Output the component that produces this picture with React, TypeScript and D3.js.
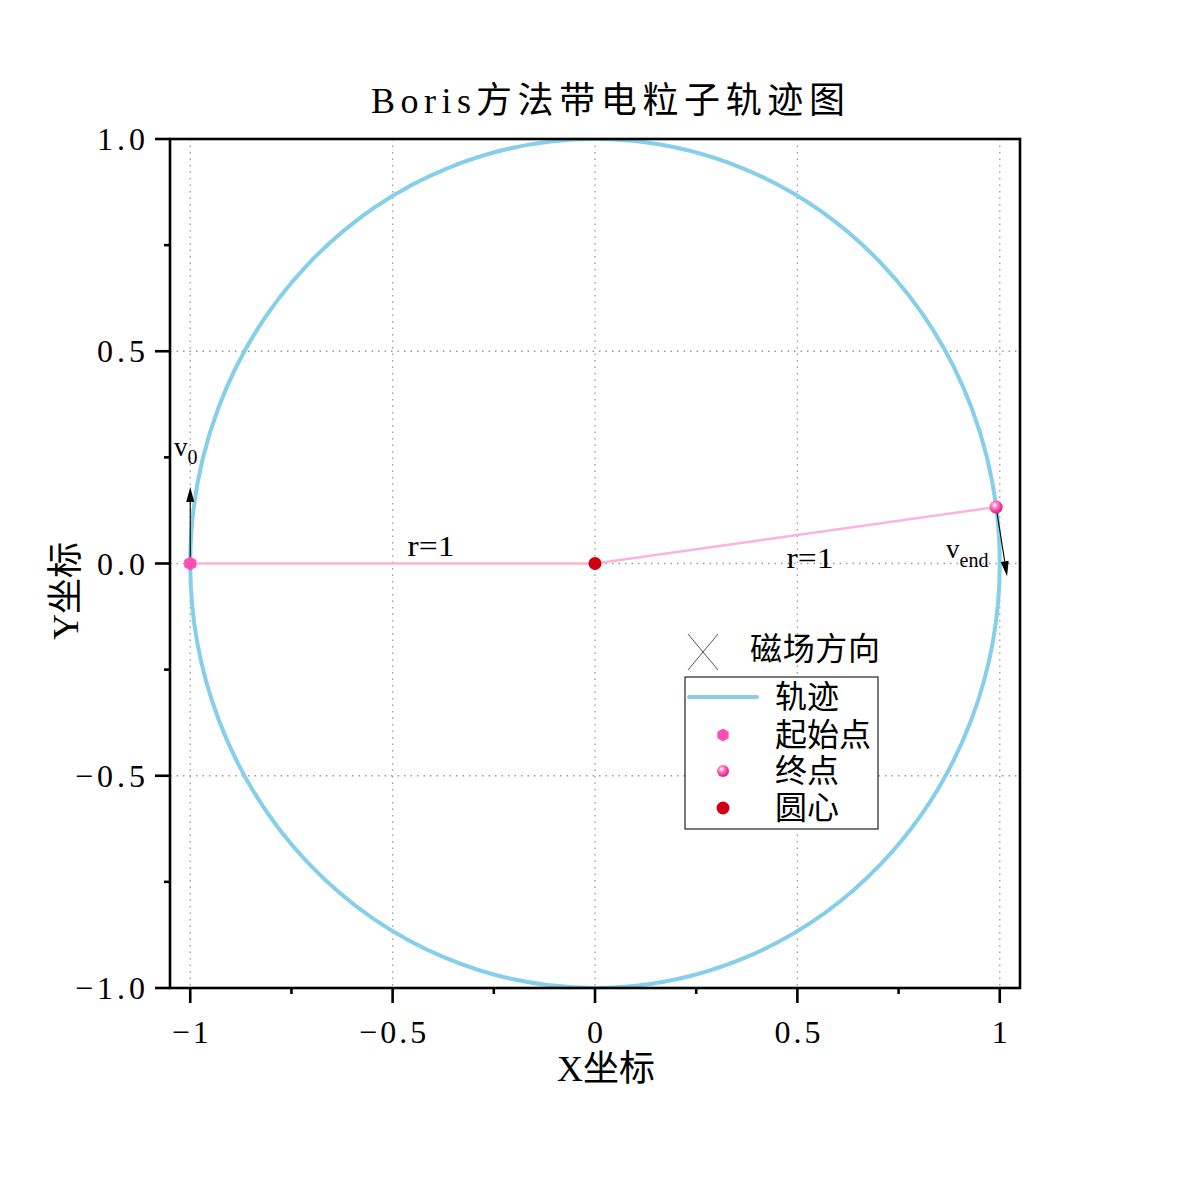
import React from "react";
import * as d3 from "d3";

// ---- data ----
const xMajor = [-1, -0.5, 0, 0.5, 1];
const xMajorLabels = ["−1", "−0.5", "0", "0.5", "1"];
const xMinor = [-0.75, -0.25, 0.25, 0.75];
const yMajor = [-1, -0.5, 0, 0.5, 1];
const yMajorLabels = ["−1.0", "−0.5", "0.0", "0.5", "1.0"];
const yMinor = [-0.75, -0.25, 0.25, 0.75];
const gridX = [-1, -0.5, 0, 0.5, 1];
const gridY = [-0.5, 0, 0.5];

const circleCenter: [number, number] = [0, 0];
const circleRadius = 1;
const startPoint: [number, number] = [-1, 0];
const endPoint: [number, number] = [0.991, 0.133];
const v0Vec: [number, number] = [0, 0.18];
const vEndVec: [number, number] = [0.027, -0.163];

const titleLatin = "Boris";
const titleCJK = "方法带电粒子轨迹图";
const xLabelText = "X坐标";
const yLabelText = "Y坐标";
const legendItems = ["轨迹", "起始点", "终点", "圆心"];
const fieldLabel = "磁场方向";
const radiusLabel = "r=1";

const SKY = "#87CEEB";
const PINKLINE = "#F9B4DA";
const HOT = "#FF4DB5";
const RED = "#D10010";

const SERIF = "'Liberation Serif', 'DejaVu Serif', serif";
const CJK = "'Liberation Serif', 'Noto Sans CJK SC', serif";

export default function App() {
  const W = 1192, H = 1192;
  const L = 170, R = 1020, T = 139, B = 988;
  const x = d3.scaleLinear().domain([-1.05, 1.05]).range([L, R]);
  const y = d3.scaleLinear().domain([-1, 1]).range([B, T]);

  const hexPts = (cx: number, cy: number, r: number) =>
    d3.range(6).map((i) => {
      const a = (Math.PI / 3) * i + Math.PI / 6;
      return `${cx + r * Math.cos(a)},${cy + r * Math.sin(a)}`;
    }).join(" ");

  const arrow = (p: [number, number], v: [number, number], key: string) => {
    const x1 = x(p[0]), y1 = y(p[1]);
    const x2 = x(p[0] + v[0]), y2 = y(p[1] + v[1]);
    const dx = x2 - x1, dy = y2 - y1;
    const len = Math.hypot(dx, dy);
    const ux = dx / len, uy = dy / len;
    const hl = 15, hw = 4;
    const bx = x2 - ux * hl, by = y2 - uy * hl;
    const px = -uy, py = ux;
    return (
      <g key={key}>
        <line x1={x1} y1={y1} x2={bx} y2={by} stroke="#000" strokeWidth={1.1} />
        <polygon
          points={`${x2},${y2} ${bx + px * hw},${by + py * hw} ${bx - px * hw},${by - py * hw}`}
          fill="#000"
        />
      </g>
    );
  };

  const lgX = 685, lgY = 677, lgW = 193, lgH = 152;
  const rowY = [697, 735, 771, 808];

  return (
    <svg width={W} height={H} style={{ position: "absolute", left: 0, top: 0, background: "#fff" }}>
      <defs>
        <radialGradient id="sph" cx="0.38" cy="0.35" r="0.65">
          <stop offset="0" stopColor="#ffffff" />
          <stop offset="0.25" stopColor="#ff9ad6" />
          <stop offset="0.7" stopColor="#f0409e" />
          <stop offset="1" stopColor="#d02888" />
        </radialGradient>
        <clipPath id="plotclip">
          <rect x={L} y={T} width={R - L} height={B - T} />
        </clipPath>
      </defs>
      <rect x={0} y={0} width={W} height={H} fill="#fff" />

      {/* grid */}
      {gridX.map((v) => (
        <line key={"gx" + v} x1={x(v)} x2={x(v)} y1={T} y2={B} stroke="#999" strokeWidth={1.3} strokeDasharray="1.5,5" />
      ))}
      {gridY.map((v) => (
        <line key={"gy" + v} x1={L} x2={R} y1={y(v)} y2={y(v)} stroke="#999" strokeWidth={1.3} strokeDasharray="1.5,5" />
      ))}

      <g clipPath="url(#plotclip)">
        {/* trajectory */}
        <ellipse
          cx={x(circleCenter[0])}
          cy={y(circleCenter[1])}
          rx={x(circleRadius) - x(0)}
          ry={y(0) - y(circleRadius)}
          fill="none"
          stroke={SKY}
          strokeWidth={4}
        />
        {/* radius lines */}
        <line x1={x(startPoint[0])} y1={y(startPoint[1])} x2={x(circleCenter[0])} y2={y(circleCenter[1])} stroke={PINKLINE} strokeWidth={2.5} />
        <line x1={x(circleCenter[0])} y1={y(circleCenter[1])} x2={x(endPoint[0])} y2={y(endPoint[1])} stroke={PINKLINE} strokeWidth={2.5} />
      </g>

      {/* velocity arrows */}
      {arrow(startPoint, v0Vec, "a0")}
      {arrow(endPoint, vEndVec, "a1")}

      {/* markers */}
      <polygon points={hexPts(x(startPoint[0]), y(startPoint[1]), 7)} fill={HOT} />
      <circle cx={x(endPoint[0])} cy={y(endPoint[1])} r={6.5} fill="url(#sph)" />
      <circle cx={x(circleCenter[0])} cy={y(circleCenter[1])} r={6.5} fill={RED} />

      {/* annotation labels */}
      <text x={431} y={556} fontFamily={SERIF} fontSize={29} textAnchor="middle" textLength={47} lengthAdjust="spacingAndGlyphs">{radiusLabel}</text>
      <text x={810} y={568} fontFamily={SERIF} fontSize={29} textAnchor="middle" textLength={47} lengthAdjust="spacingAndGlyphs">{radiusLabel}</text>
      <text x={174} y={456} fontFamily={SERIF} fontSize={27}>v<tspan fontSize={20} dy={8}>0</tspan></text>
      <text x={946} y={558} fontFamily={SERIF} fontSize={27}>v<tspan fontSize={20} dy={9}>end</tspan></text>

      {/* axes box */}
      <rect x={L} y={T} width={R - L} height={B - T} fill="none" stroke="#000" strokeWidth={2.6} />

      {/* x ticks */}
      {xMajor.map((v, i) => (
        <g key={"xt" + v}>
          <line x1={x(v)} x2={x(v)} y1={B} y2={B + 15} stroke="#000" strokeWidth={2.6} />
          <text x={x(v) + 1.5} y={1043} fontFamily={SERIF} fontSize={32} textAnchor="middle" letterSpacing={3}>{xMajorLabels[i]}</text>
        </g>
      ))}
      {xMinor.map((v) => (
        <line key={"xm" + v} x1={x(v)} x2={x(v)} y1={B} y2={B + 6} stroke="#000" strokeWidth={2.6} />
      ))}
      {/* y ticks */}
      {yMajor.map((v, i) => (
        <g key={"yt" + v}>
          <line x1={L - 15} x2={L} y1={y(v)} y2={y(v)} stroke="#000" strokeWidth={2.6} />
          <text x={149} y={y(v) + 11} fontFamily={SERIF} fontSize={32} textAnchor="end" letterSpacing={4}>{yMajorLabels[i]}</text>
        </g>
      ))}
      {yMinor.map((v) => (
        <line key={"ym" + v} x1={L - 6} x2={L} y1={y(v)} y2={y(v)} stroke="#000" strokeWidth={2.6} />
      ))}

      {/* axis labels & title */}
      <text x={606} y={1081} fontFamily={CJK} fontSize={36} textAnchor="middle">{xLabelText}</text>
      <text transform="translate(78,591) rotate(-90)" fontFamily={CJK} fontSize={36} textAnchor="middle">{yLabelText}</text>
      <text y={113} fontFamily={CJK} fontSize={36}>
        <tspan x={371} textLength={100} lengthAdjust="spacing">{titleLatin}</tspan>
        <tspan x={476} textLength={369} lengthAdjust="spacing">{titleCJK}</tspan>
      </text>

      {/* field direction marker */}
      <line x1={688} y1={634} x2={718} y2={670} stroke="#555" strokeWidth={1} />
      <line x1={718} y1={634} x2={688} y2={670} stroke="#555" strokeWidth={1} />
      <text x={750} y={660} fontFamily={CJK} fontSize={32} textLength={130} lengthAdjust="spacing">{fieldLabel}</text>

      {/* legend */}
      <rect x={lgX} y={lgY} width={lgW} height={lgH} fill="#fff" stroke="#222" strokeWidth={1.2} />
      <line x1={689} x2={757} y1={rowY[0]} y2={rowY[0]} stroke={SKY} strokeWidth={4} strokeLinecap="round" />
      <polygon points={hexPts(723, rowY[1], 6.5)} fill={HOT} />
      <circle cx={723} cy={rowY[2]} r={6} fill="url(#sph)" />
      <circle cx={723} cy={rowY[3]} r={6.5} fill={RED} />
      {legendItems.map((t, i) => (
        <text key={t} x={775} y={rowY[i] + 11} fontFamily={CJK} fontSize={32}>{t}</text>
      ))}
    </svg>
  );
}
